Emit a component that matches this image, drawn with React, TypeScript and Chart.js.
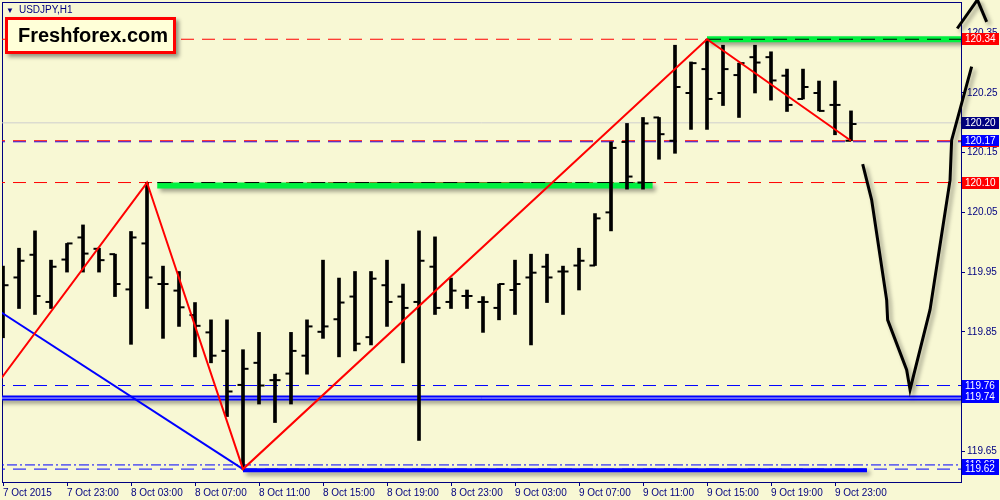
import React, { useEffect, useRef } from "react";
import { Chart, registerables } from "chart.js";

Chart.register(...registerables);

// ---------- data ----------
const xTickIndex = [0, 4, 8, 12, 16, 20, 24, 28, 32, 36, 40, 44, 48, 52];
const xTickLabels = [
  "7 Oct 2015", "7 Oct 23:00", "8 Oct 03:00", "8 Oct 07:00", "8 Oct 11:00",
  "8 Oct 15:00", "8 Oct 19:00", "8 Oct 23:00", "9 Oct 03:00", "9 Oct 07:00",
  "9 Oct 11:00", "9 Oct 15:00", "9 Oct 19:00", "9 Oct 23:00",
];
const yTickValues = [119.65, 119.75, 119.85, 119.95, 120.05, 120.15, 120.25, 120.35];

const opens = [
  119.915, 119.941, 119.979, 119.900, 119.971, 120.008, 119.989, 119.980, 119.921, 119.998,
  119.930, 119.919, 119.878, 119.849, 119.818, 119.761, 119.798, 119.769, 119.780, 119.810,
  119.850, 119.871, 119.909, 119.841, 119.928, 119.909, 119.900, 119.959, 119.900, 119.910,
  119.900, 119.890, 119.920, 119.941, 119.959, 119.951, 119.961, 119.961, 120.050, 120.168,
  120.100, 120.209, 120.170, 120.250, 120.290, 120.250, 120.280, 120.310, 120.310, 120.279,
  120.240, 120.250, 120.230, 120.170,
];
const highs = [
  119.960, 119.990, 120.019, 119.970, 119.998, 120.029, 119.990, 119.980, 120.018, 120.100,
  119.960, 119.951, 119.899, 119.870, 119.870, 119.820, 119.849, 119.779, 119.849, 119.870,
  119.970, 119.940, 119.951, 119.951, 119.970, 119.930, 120.019, 120.009, 119.940, 119.920,
  119.909, 119.930, 119.970, 119.980, 119.980, 119.960, 119.990, 120.048, 120.168, 120.199,
  120.209, 120.209, 120.330, 120.302, 120.340, 120.330, 120.300, 120.330, 120.319, 120.290,
  120.290, 120.270, 120.270, 120.220,
];
const lows = [
  119.840, 119.889, 119.879, 119.889, 119.950, 119.950, 119.950, 119.909, 119.829, 119.889,
  119.839, 119.859, 119.808, 119.798, 119.708, 119.620, 119.729, 119.698, 119.729, 119.779,
  119.839, 119.808, 119.818, 119.828, 119.859, 119.798, 119.668, 119.879, 119.889, 119.889,
  119.849, 119.870, 119.879, 119.828, 119.899, 119.879, 119.920, 119.961, 120.019, 120.089,
  120.089, 120.139, 120.149, 120.189, 120.189, 120.229, 120.209, 120.250, 120.238, 120.219,
  120.240, 120.220, 120.180, 120.170,
];
const closes = [
  119.928, 119.969, 119.910, 119.959, 119.998, 119.981, 119.970, 119.930, 120.008, 119.941,
  119.930, 119.891, 119.860, 119.810, 119.750, 119.788, 119.760, 119.769, 119.818, 119.859,
  119.859, 119.899, 119.830, 119.939, 119.900, 119.890, 119.969, 119.890, 119.919, 119.910,
  119.900, 119.930, 119.930, 119.949, 119.941, 119.951, 119.969, 120.040, 120.158, 120.110,
  120.199, 120.181, 120.260, 120.300, 120.240, 120.290, 120.300, 120.301, 120.271, 120.230,
  120.260, 120.220, 120.230, 120.198,
];

// zigzag (red) and trend line (blue)
const zigzagX = [-1, 9, 15, 44, 53];
const zigzagY = [119.740, 120.100, 119.620, 120.340, 120.170];
const trendX = [-1, 15];
const trendY = [119.898, 119.620];

// hand-drawn forecast curve with arrow
const forecastX = [53.73, 54.29, 55.23, 55.29, 56.48, 56.69, 57.94, 59.19, 59.29, 60.54, 60.9];
const forecastY = [120.131, 120.071, 119.903, 119.870, 119.786, 119.753, 119.887, 120.104, 120.171, 120.294, 120.406];
const arrowLeftX = [59.64, 60.9];
const arrowLeftY = [120.358, 120.406];
const arrowRightX = [60.9, 61.48, 61.58];
const arrowRightY = [120.406, 120.369, 120.353];

// levels
const redDashLevels = [120.34, 120.10, 120.17];
const blueDashLevels = [120.1683, 119.76, 119.62];
const bidLevel = 120.20;
const doubleLevel = 119.739;
const dashDotLevel = 119.627;
const greenStart = [9.64, 44];
const greenEnd = [40.6, 61];
const greenLevels = [120.095, 120.34];
const blackDashLevels = [120.10, 120.34];
const supportStart = 15;
const supportEnd = 54;
const supportLevel = 119.618;

// right-axis price boxes
const boxPrices = [120.34, 120.20, 120.17, 120.10, 119.76, 119.74, 119.627, 119.62];
const boxTexts = ["120.34", "120.20", "120.17", "120.10", "119.76", "119.74", "119.63", "119.62"];
const boxColors = ["#ff0000", "#000080", "#0000ff", "#ff0000", "#0000ff", "#0000ff", "#0000ff", "#0000ff"];

// ---------- styles ----------
const BG = "#f8f8d4";
const AXIS = "#000080";
const FONT = "Liberation Sans";
const X_MIN = -0.0625;
const X_MAX = 59.875;
const Y_MIN = 119.5984;
const Y_MAX = 120.4024;

function hline(y: number, x0: number, x1: number, color: string, width: number, dash: number[], order: number, extra: any = {}) {
  return {
    type: "line",
    data: [{ x: x0, y }, { x: x1, y }],
    borderColor: color,
    borderWidth: width,
    borderDash: dash,
    pointRadius: 0,
    order,
    ...extra,
  };
}

function poly(xs: number[], ys: number[], color: string, width: number, order: number, extra: any = {}) {
  return {
    type: "line",
    data: xs.map((x, i) => ({ x, y: ys[i] })),
    borderColor: color,
    borderWidth: width,
    pointRadius: 0,
    order,
    ...extra,
  };
}

const bgPlugin = {
  id: "bgPlugin",
  beforeDraw(chart: any) {
    const { ctx, width, height } = chart;
    ctx.save();
    ctx.fillStyle = BG;
    ctx.fillRect(0, 0, width, height);
    ctx.restore();
  },
  beforeDatasetsDraw(chart: any) {
    const { ctx, chartArea } = chart;
    const ys = chart.scales.y;
    ctx.save();
    ctx.strokeStyle = AXIS;
    ctx.lineWidth = 1;
    ctx.strokeRect(chartArea.left + 0.5, chartArea.top + 0.5, chartArea.right - chartArea.left, chartArea.bottom - chartArea.top);
    ctx.font = `10px ${FONT}`;
    ctx.textBaseline = "middle";
    boxPrices.forEach((p, i) => {
      const y = Math.round(ys.getPixelForValue(p));
      ctx.fillStyle = boxColors[i];
      ctx.fillRect(chartArea.right + 1, y - 6, 37, 12);
      ctx.fillStyle = "#ffffff";
      ctx.fillText(boxTexts[i], chartArea.right + 4, y + 0.5);
      if (boxTexts[i] === "120.17") {
        ctx.fillStyle = "#ff0000";
        ctx.fillRect(chartArea.right + 1, y + 5, 37, 1);
      }
    });
    ctx.restore();
  },
};

const shadowPlugin = {
  id: "shadowPlugin",
  beforeDatasetDraw(chart: any, args: any) {
    const ds = chart.data.datasets[args.index];
    if (ds.shadow) {
      const ctx = chart.ctx;
      ctx.save();
      ctx.shadowColor = "rgba(0,0,0,0.38)";
      ctx.shadowBlur = 4;
      ctx.shadowOffsetX = 3;
      ctx.shadowOffsetY = 3;
    }
  },
  afterDatasetDraw(chart: any, args: any) {
    const ds = chart.data.datasets[args.index];
    if (ds.shadow) chart.ctx.restore();
  },
};

export default function App() {
  const canvasRef = useRef<HTMLCanvasElement | null>(null);

  useEffect(() => {
    if (!canvasRef.current) return;
    const idx = opens.map((_, i) => i);
    const datasets: any[] = [];

    // background level lines
    datasets.push(hline(bidLevel, -2, 62, "#cfcfcf", 1, [], 100));
    blueDashLevels.forEach((lv) => datasets.push(hline(lv, -2, 62, "#0000ff", 1, [13, 8], 99)));
    redDashLevels.forEach((lv) => datasets.push(hline(lv, -2, 62, "#ff0000", 1, [13, 8], 98)));
    datasets.push(hline(dashDotLevel, -2, 62, "#0000ff", 1, [10, 3, 2, 3], 97));
    datasets.push(hline(doubleLevel, -2, 62, "#0000ff", 5, [], 95, { shadow: true }));
    datasets.push(hline(doubleLevel, -2, 62, "#c8c8f0", 1, [], 94));

    // green zones with dashed black line over them
    greenLevels.forEach((lv, i) =>
      datasets.push(hline(lv, greenStart[i], greenEnd[i], "#00f040", 6, [], 90, { shadow: true }))
    );
    blackDashLevels.forEach((lv, i) =>
      datasets.push(hline(lv, greenStart[i], greenEnd[i], "#000000", 1, [14, 8], 89))
    );
    // support thick blue
    datasets.push(hline(supportLevel, supportStart, supportEnd, "#0000ff", 4, [], 88, { shadow: true }));

    // OHLC bars
    datasets.push({
      type: "bar",
      data: idx.map((i) => ({ x: i, y: [lows[i], highs[i]] })),
      backgroundColor: "#000000",
      borderWidth: 0,
      barThickness: 3,
      grouped: false,
      order: 50,
    });
    datasets.push({
      type: "line",
      data: idx.map((i) => ({ x: i - 0.17, y: opens[i] })),
      showLine: false,
      pointStyle: "line",
      pointRadius: 2.8,
      pointBorderWidth: 2,
      pointBorderColor: "#000000",
      pointBackgroundColor: "#000000",
      order: 49,
    });
    datasets.push({
      type: "line",
      data: idx.map((i) => ({ x: i + 0.17, y: closes[i] })),
      showLine: false,
      pointStyle: "line",
      pointRadius: 2.8,
      pointBorderWidth: 2,
      pointBorderColor: "#000000",
      pointBackgroundColor: "#000000",
      order: 49,
    });

    // zigzag and trend
    datasets.push(poly(trendX, trendY, "#0000ff", 2, 21));
    datasets.push(poly(zigzagX, zigzagY, "#ff0000", 2, 20));

    // forecast curve
    datasets.push(poly(forecastX, forecastY, "#000000", 3, 2, { clip: false, shadow: true }));
    datasets.push(poly(arrowLeftX, arrowLeftY, "#000000", 3, 1, { clip: false, shadow: true }));
    datasets.push(poly(arrowRightX, arrowRightY, "#000000", 3, 1, { clip: false, shadow: true }));

    const chart = new Chart(canvasRef.current, {
      type: "line",
      data: { datasets },
      options: {
        animation: false,
        responsive: false,
        maintainAspectRatio: false,
        events: [],
        layout: { autoPadding: false, padding: { left: 2, top: 2, right: 0, bottom: 0 } },
        plugins: { legend: { display: false }, tooltip: { enabled: false } },
        scales: {
          x: {
            type: "linear",
            position: "bottom",
            min: X_MIN,
            max: X_MAX,
            offset: false,
            grid: { display: true, drawOnChartArea: false, drawTicks: true, tickLength: 4, color: AXIS, offset: false },
            border: { display: true, color: AXIS, width: 1 },
            ticks: {
              autoSkip: false,
              maxRotation: 0,
              minRotation: 0,
              align: "start",
              padding: 1,
              color: AXIS,
              font: { family: FONT, size: 10 },
              callback: (v: any) => {
                const k = xTickIndex.indexOf(Number(v));
                return k >= 0 ? xTickLabels[k] : "";
              },
            },
            afterBuildTicks: (s: any) => {
              s.ticks = xTickIndex.map((v) => ({ value: v }));
            },
            afterFit: (s: any) => {
              s.height = 18;
              s.paddingLeft = 0;
              s.paddingRight = 0;
              s.paddingTop = 0;
              s.paddingBottom = 0;
            },
          },
          y: {
            type: "linear",
            position: "right",
            min: Y_MIN,
            max: Y_MAX,
            grid: { display: true, drawOnChartArea: false, drawTicks: true, tickLength: 4, color: AXIS },
            border: { display: true, color: AXIS, width: 1 },
            ticks: {
              padding: 2,
              color: AXIS,
              font: { family: FONT, size: 10 },
              callback: (v: any) => Number(v).toFixed(2),
            },
            afterBuildTicks: (s: any) => {
              s.ticks = yTickValues.map((v) => ({ value: v }));
            },
            afterFit: (s: any) => {
              s.width = 39;
              s.paddingLeft = 0;
              s.paddingRight = 0;
              s.paddingTop = 0;
              s.paddingBottom = 0;
            },
          },
        },
      } as any,
      plugins: [bgPlugin, shadowPlugin],
    } as any);
    return () => chart.destroy();
  }, []);

  return (
    <div style={{ position: "fixed", left: 0, top: 0, width: 1000, height: 500, overflow: "hidden", background: BG }}>
      <canvas ref={canvasRef} width={1000} height={500} style={{ display: "block", width: 1000, height: 500 }} />
      <div
        style={{
          position: "absolute",
          left: 6,
          top: 3,
          fontFamily: "Liberation Sans",
          fontSize: 10,
          color: AXIS,
          lineHeight: "13px",
          whiteSpace: "nowrap",
        }}
      >
        <span style={{ fontSize: 8, marginRight: 5 }}>▼</span>USDJPY,H1
      </div>
      <div
        style={{
          position: "absolute",
          left: 5,
          top: 17,
          width: 165,
          height: 31,
          border: "3px solid #ff0000",
          background: "#ffffd8",
          boxShadow: "3px 3px 4px rgba(0,0,0,0.4)",
          fontFamily: "Liberation Sans",
          fontWeight: "bold",
          fontSize: 20,
          color: "#000000",
          lineHeight: "31px",
          textIndent: 10,
          whiteSpace: "nowrap",
          boxSizing: "content-box",
        }}
      >
        Freshforex.com
      </div>
    </div>
  );
}
